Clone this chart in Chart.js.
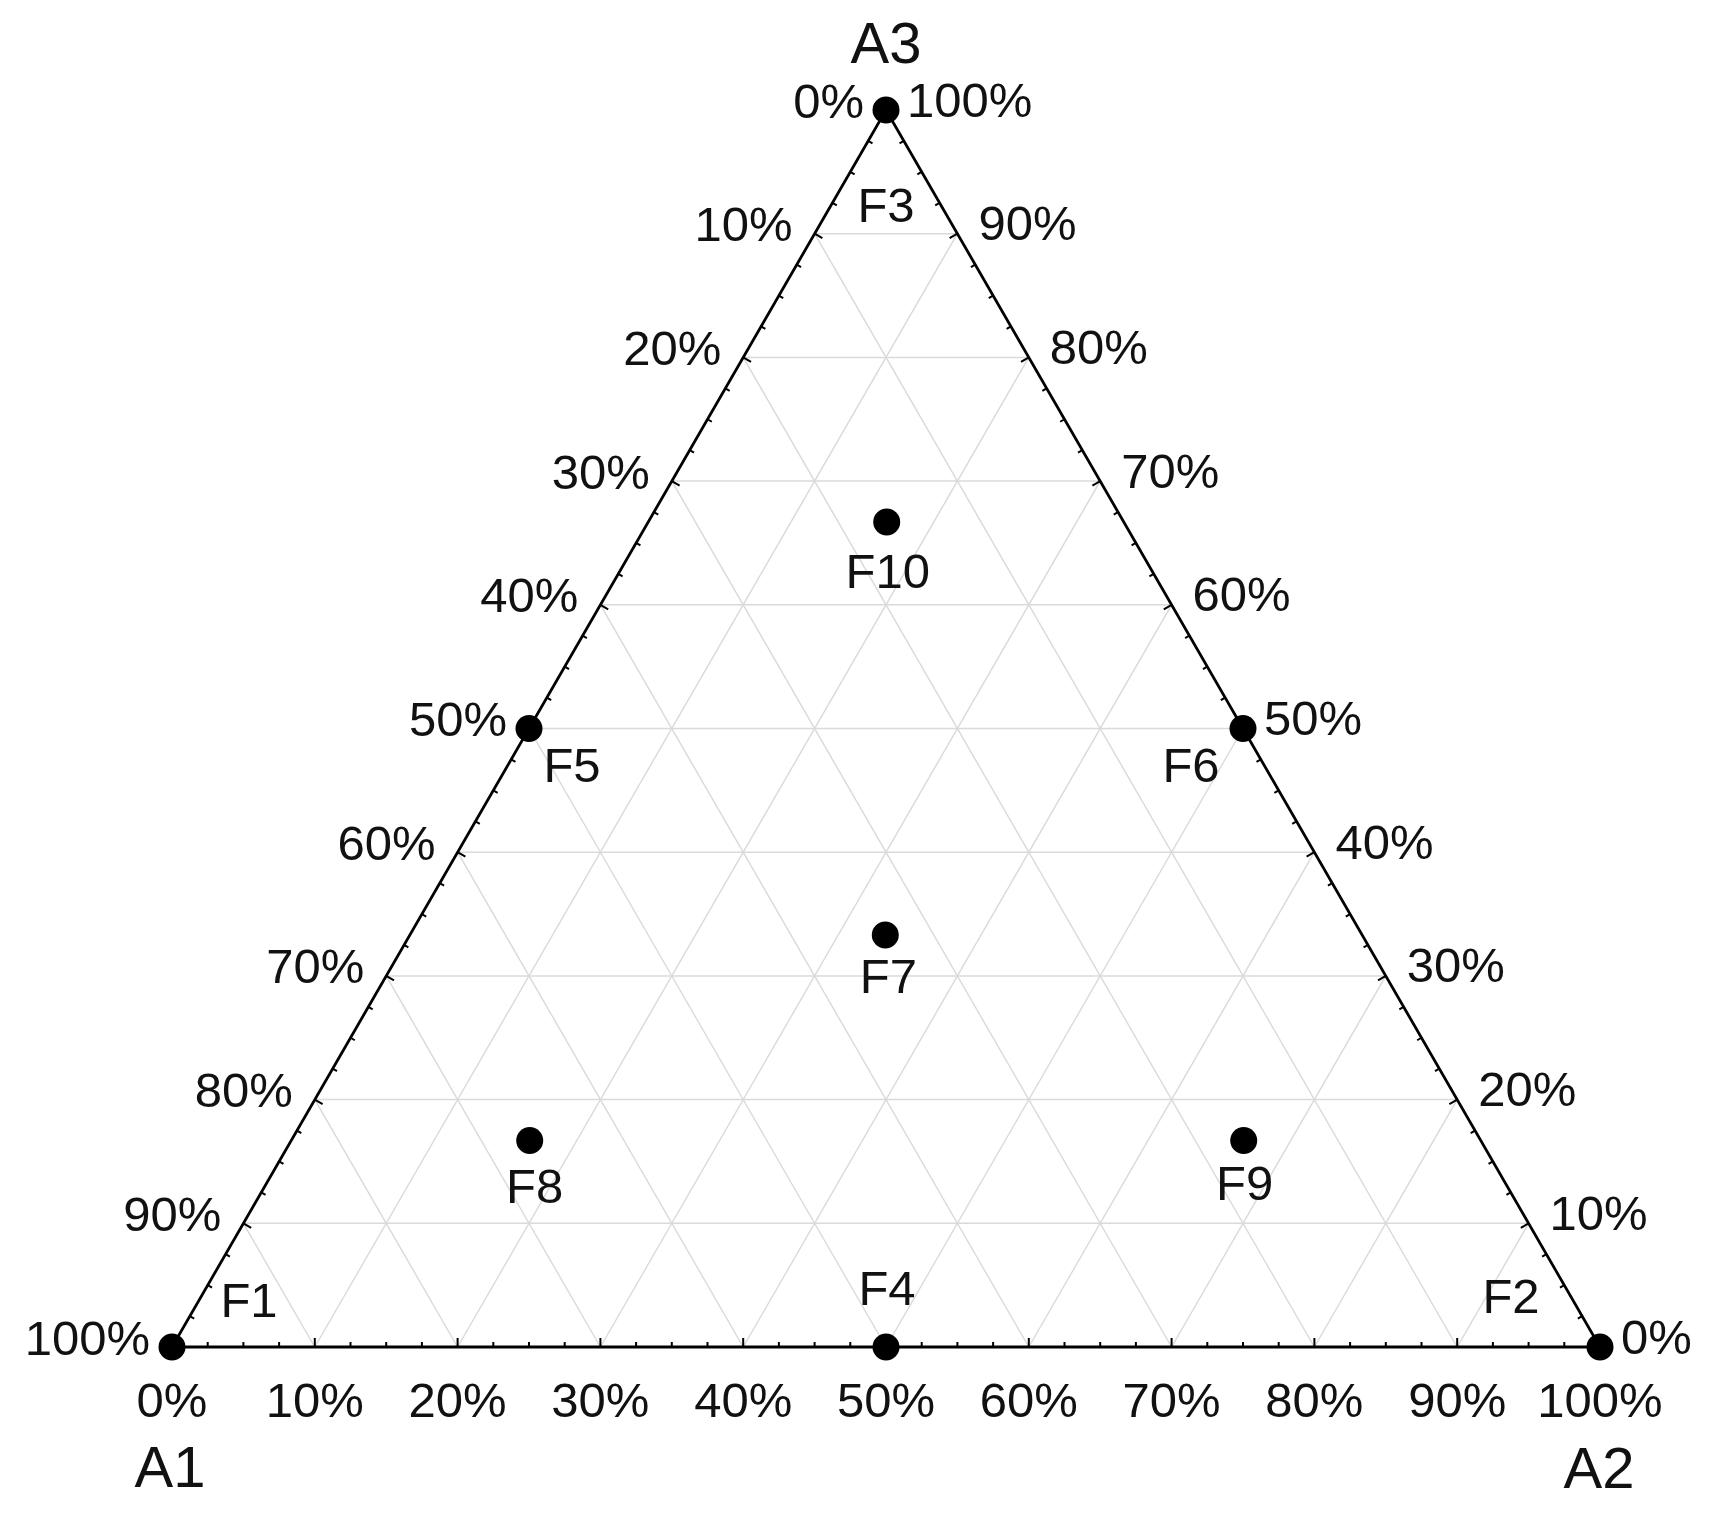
<!DOCTYPE html>
<html>
<head>
<meta charset="utf-8">
<script src="https://cdn.jsdelivr.net/npm/chart.js@4.4.1/dist/chart.umd.min.js"></script>
<style>
  html, body { margin: 0; padding: 0; background: #fff; }
</style>
</head>
<body>
<canvas id="ternary" width="1717" height="1513"></canvas>
<script>
// mixture points (fractions of A1, A2, A3)
const names = ["F1", "F2", "F3", "F4", "F5", "F6", "F7", "F8", "F9", "F10"];
const a1 = [1, 0, 0, 0.5, 0.5, 0, 0.333, 0.667, 0.167, 0.167];
const a2 = [0, 1, 0, 0.5, 0, 0.5, 0.333, 0.167, 0.667, 0.167];
const a3 = [0, 0, 1, 0, 0.5, 0.5, 0.333, 0.167, 0.167, 0.667];

// axis ticks in percent
const tickValues = [0, 10, 20, 30, 40, 50, 60, 70, 80, 90, 100];
const tickLabels = ["0%", "10%", "20%", "30%", "40%", "50%", "60%", "70%", "80%", "90%", "100%"];
const vertexNames = ["A1", "A2", "A3"];

// where each point's name sits relative to the dot (px)
const nameOffsets = [
  [77, -48], [-89, -52], [0, 94], [1, -60], [43, 36],
  [-52, 36], [3, 40], [5, 45], [1, 42], [1, 49],
];

const H = Math.sqrt(3) / 2;
const DY = 4; // small nudge so glyphs sit like the original
function toXY(p1, p2, p3) {
  return { x: p2 + p3 / 2, y: p3 * H };
}

const points = names.map((n, i) => toXY(a1[i], a2[i], a3[i]));

const FONT = '"Liberation Sans", Arial, sans-serif';

const ternaryPlugin = {
  id: "ternary",
  beforeDatasetsDraw(chart) {
    const ctx = chart.ctx;
    const sx = chart.scales.x, sy = chart.scales.y;
    const px = (p1, p2, p3) => {
      const q = toXY(p1, p2, p3);
      return [sx.getPixelForValue(q.x), sy.getPixelForValue(q.y)];
    };
    const line = (a, b) => {
      ctx.beginPath();
      ctx.moveTo(a[0], a[1]);
      ctx.lineTo(b[0], b[1]);
      ctx.stroke();
    };
    ctx.save();
    // grid
    ctx.strokeStyle = "#dadada";
    ctx.lineWidth = 1.5;
    for (let k = 1; k < 10; k++) {
      const f = k / 10;
      line(px(1 - f, 0, f), px(0, 1 - f, f));
      line(px(f, 1 - f, 0), px(f, 0, 1 - f));
      line(px(1 - f, f, 0), px(0, f, 1 - f));
    }
    // edges
    ctx.strokeStyle = "#000";
    ctx.lineWidth = 2.8;
    ctx.beginPath();
    const A = px(1, 0, 0), B = px(0, 1, 0), C = px(0, 0, 1);
    ctx.moveTo(A[0], A[1]);
    ctx.lineTo(B[0], B[1]);
    ctx.lineTo(C[0], C[1]);
    ctx.closePath();
    ctx.stroke();
    // ticks, pointing inward
    ctx.lineWidth = 2;
    for (let t = 1; t < 40; t++) {
      const v = t / 40;
      const len = t % 4 === 0 ? 9 : 5;
      let p = px(1 - v, v, 0);
      line(p, [p[0], p[1] - len]);
      p = px(v, 0, 1 - v);
      line(p, [p[0] + len * H, p[1] + len * 0.5]);
      p = px(0, 1 - v, v);
      line(p, [p[0] - len * H, p[1] + len * 0.5]);
    }
    ctx.restore();
  },
  afterDatasetsDraw(chart) {
    const ctx = chart.ctx;
    const sx = chart.scales.x, sy = chart.scales.y;
    const px = (p1, p2, p3) => {
      const q = toXY(p1, p2, p3);
      return [sx.getPixelForValue(q.x), sy.getPixelForValue(q.y) + DY];
    };
    ctx.save();
    ctx.fillStyle = "#111";
    ctx.font = "49px " + FONT;
    ctx.textBaseline = "middle";
    tickValues.forEach((v, i) => {
      const f = v / 100;
      // bottom axis: A2
      let p = px(1 - f, f, 0);
      ctx.textAlign = "center";
      ctx.fillText(tickLabels[i], p[0], p[1] + 52);
      // left axis: A1
      p = px(f, 0, 1 - f);
      ctx.textAlign = "right";
      ctx.fillText(tickLabels[i], p[0] - 22, p[1] - 10);
      // right axis: A3
      p = px(0, 1 - f, f);
      ctx.textAlign = "left";
      ctx.fillText(tickLabels[i], p[0] + 21, p[1] - 11);
    });
    // point names
    ctx.textAlign = "center";
    names.forEach((n, i) => {
      const p = px(a1[i], a2[i], a3[i]);
      ctx.fillText(n, p[0] + nameOffsets[i][0], p[1] + nameOffsets[i][1]);
    });
    // vertex titles
    ctx.font = "58px " + FONT;
    let p = px(1, 0, 0);
    ctx.fillText(vertexNames[0], p[0] - 2, p[1] + 120);
    p = px(0, 1, 0);
    ctx.fillText(vertexNames[1], p[0] - 1, p[1] + 121);
    p = px(0, 0, 1);
    ctx.fillText(vertexNames[2], p[0], p[1] - 67);
    ctx.restore();
  },
};

new Chart(document.getElementById("ternary"), {
  type: "scatter",
  data: {
    datasets: [
      {
        data: points,
        pointRadius: 13.5,
        pointHoverRadius: 13.5,
        backgroundColor: "#000",
        borderWidth: 0,
        clip: false,
      },
    ],
  },
  options: {
    responsive: false,
    animation: false,
    layout: { padding: { left: 172, right: 117, top: 110, bottom: 166 } },
    scales: {
      x: { type: "linear", min: 0, max: 1, display: false },
      y: { type: "linear", min: 0, max: H, display: false },
    },
    plugins: { legend: { display: false }, tooltip: { enabled: false } },
  },
  plugins: [ternaryPlugin],
});
</script>
</body>
</html>
